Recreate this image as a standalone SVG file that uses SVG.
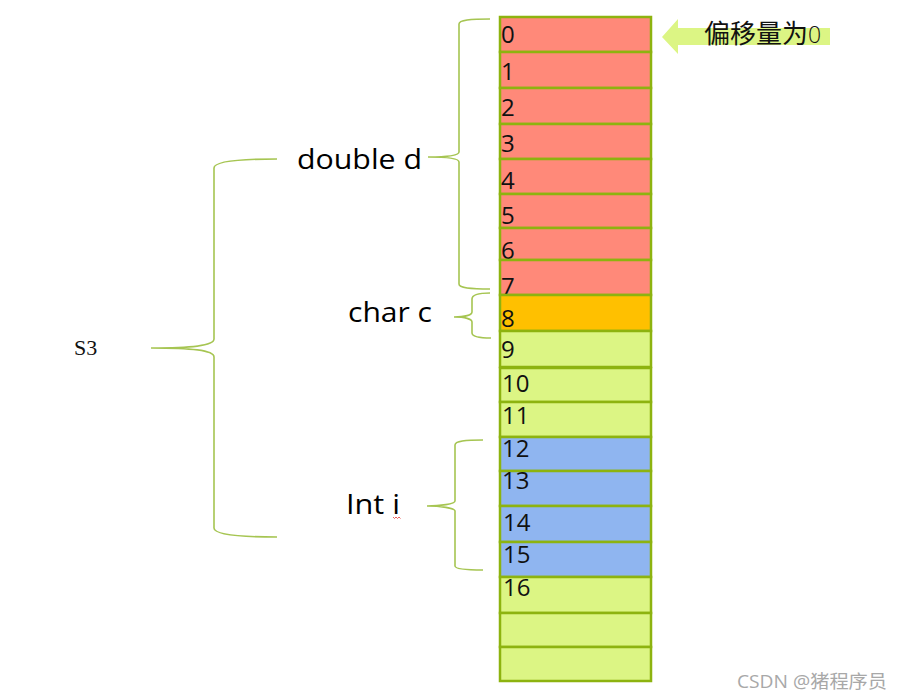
<svg xmlns="http://www.w3.org/2000/svg" width="903" height="700" viewBox="0 0 903 700">
<style>
.cell{stroke:#8DB30F;stroke-width:2.5}
.r{fill:#FF8979}
.o{fill:#FFC000}
.g{fill:#DCF584}
.b{fill:#8FB5F0}
.num{font-family:"Open Sans","Noto Sans",sans-serif;font-size:24px;fill:#111}
.lbl{font-family:"Open Sans","Noto Sans",sans-serif;font-size:27px;fill:#000}
.brace{fill:none;stroke:#A6C552;stroke-width:1.6}
</style>
<rect width="903" height="700" fill="#fff"/>
<g id="cells">
<g id="c0"><rect class="cell r" x="500" y="17" width="151" height="35"/><text class="num" x="501" y="43">0</text></g>
<g id="c1"><rect class="cell r" x="500" y="52" width="151" height="36"/><text class="num" x="501" y="80">1</text></g>
<g id="c2"><rect class="cell r" x="500" y="88" width="151" height="36"/><text class="num" x="501" y="116">2</text></g>
<g id="c3"><rect class="cell r" x="500" y="124" width="151" height="35"/><text class="num" x="501" y="152">3</text></g>
<g id="c4"><rect class="cell r" x="500" y="159" width="151" height="35"/><text class="num" x="501" y="189">4</text></g>
<g id="c5"><rect class="cell r" x="500" y="194" width="151" height="34"/><text class="num" x="501" y="224">5</text></g>
<g id="c6"><rect class="cell r" x="500" y="228" width="151" height="32"/><text class="num" x="501" y="259">6</text></g>
<g id="c7"><rect class="cell r" x="500" y="260" width="151" height="35"/><text class="num" x="501" y="295">7</text></g>
<g id="c8"><rect class="cell o" x="500" y="295" width="151" height="36"/><text class="num" x="501" y="327">8</text></g>
<g id="c9"><rect class="cell g" x="500" y="331" width="151" height="36"/><text class="num" x="501" y="358">9</text></g>
<g id="c10"><rect class="cell g" x="500" y="368" width="151" height="34"/><text class="num" x="502" y="392">10</text></g>
<g id="c11"><rect class="cell g" x="500" y="402" width="151" height="35"/><text class="num" x="502" y="424">11</text></g>
<g id="c12"><rect class="cell b" x="500" y="437" width="151" height="34"/><text class="num" x="502" y="457">12</text></g>
<g id="c13"><rect class="cell b" x="500" y="471" width="151" height="35"/><text class="num" x="502" y="489">13</text></g>
<g id="c14"><rect class="cell b" x="500" y="506" width="151" height="36"/><text class="num" x="503" y="531">14</text></g>
<g id="c15"><rect class="cell b" x="500" y="542" width="151" height="35"/><text class="num" x="503" y="563">15</text></g>
<g id="c16"><rect class="cell g" x="500" y="577" width="151" height="36"/><text class="num" x="503" y="596">16</text></g>
<g id="c17"><rect class="cell g" x="500" y="613" width="151" height="34"/></g>
<g id="c18"><rect class="cell g" x="500" y="647" width="151" height="34"/></g>
</g>
<g id="offset-arrow">
<polygon points="662,37 678,19 678,28 830,28 830,45 678,45 678,54" fill="#DCF584"/>
<text x="704" y="43" font-family="'Noto Sans CJK SC',sans-serif" font-size="26" fill="#111">偏移量为<tspan font-family="'Open Sans',sans-serif" font-size="23" font-weight="300">0</tspan></text>
</g>
<g id="connectors">
<path class="brace" d="M277,159 C240,159 214,161 214,168 L214,339 C214,346 190,348 151,348 C190,348 214,350 214,357 L214,528 C214,535 240,537 277,537"/>
<path class="brace" d="M490,19 C470,19 459,20 459,24 L459,152 C459,156 445,157 428,157 C445,157 459,158 459,162 L459,284 C459,288 470,289 490,289"/>
<path class="brace" d="M490,293 C478,293 472,295 472,299 L472,312 C472,315 465,317 454,317 C465,317 472,319 472,322 L472,333 C472,336 478,338 491,338"/>
<path class="brace" d="M483,440 C465,440 455,441 455,445 L455,501 C455,504 440,506 427,506 C440,506 455,508 455,511 L455,566 C455,569 465,570 483,570"/>
</g>
<g id="labels">
<text class="lbl" x="297" y="169" textLength="125" lengthAdjust="spacingAndGlyphs">double d</text>
<text class="lbl" x="348" y="322" textLength="84" lengthAdjust="spacingAndGlyphs">char c</text>
<text class="lbl" x="346" y="514" textLength="54" lengthAdjust="spacingAndGlyphs">Int i</text>
<path d="M393,517 l1.5,1.5 l1.5,-1.5 l1.5,1.5 l1.5,-1.5 l1.5,1.5" fill="none" stroke="#E53935" stroke-width="0.8"/>
<text x="74" y="355" font-family="'Liberation Serif',serif" font-size="22" fill="#111">S3</text>
</g>
<text x="737" y="688" font-family="'Open Sans','Noto Sans CJK SC',sans-serif" font-size="18" fill="#A8A8A8" textLength="150" lengthAdjust="spacingAndGlyphs">CSDN @猪程序员</text>
</svg>
